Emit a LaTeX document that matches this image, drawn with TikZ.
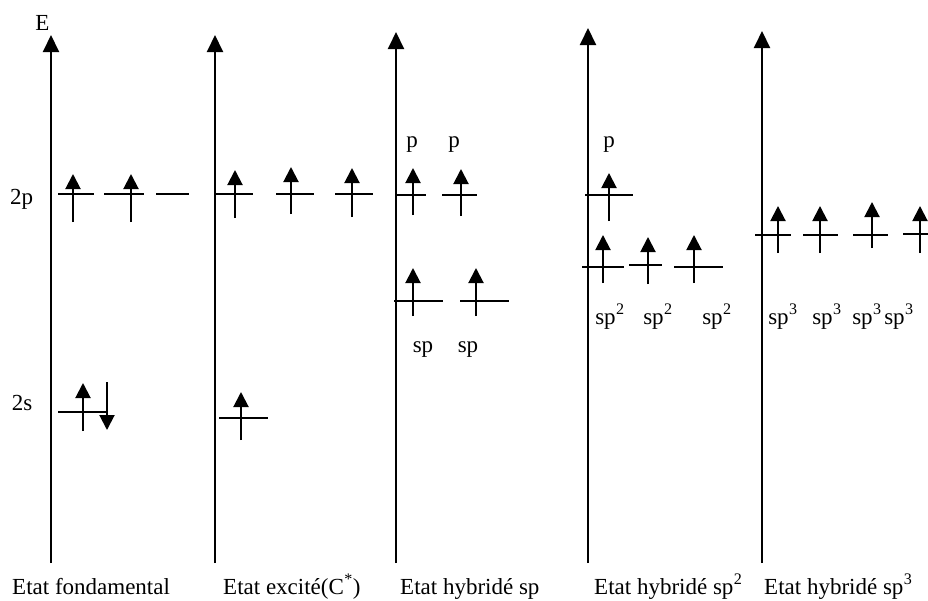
\documentclass[tikz,border=0pt]{standalone}
\usepackage{fontspec}
\setmainfont{Liberation Serif}
\usetikzlibrary{arrows.meta}
\newcommand{\sups}[1]{\textsuperscript{\kern0.5pt#1}}
\begin{document}
\begin{tikzpicture}[x=1pt,y=-1pt,
  axis/.style={line width=2pt,-{Triangle[width=16pt,length=17pt]}},
  level/.style={line width=2pt},
  elec/.style={line width=2pt,-{Triangle[width=15pt,length=15pt]}},
  lab/.style={inner sep=0pt,font=\fontsize{23}{25}\selectfont},
  blab/.style={inner sep=0pt,anchor=base west,font=\fontsize{23}{25}\selectfont}]
\useasboundingbox (0,0) rectangle (928,600);
% axes
\coordinate (a1b) at (51,563); \coordinate (a1t) at (51,35);
\coordinate (a2b) at (215,563); \coordinate (a2t) at (215,35);
\coordinate (a3b) at (396,563); \coordinate (a3t) at (396,32);
\coordinate (a4b) at (588,563); \coordinate (a4t) at (588,28);
\coordinate (a5b) at (762,563); \coordinate (a5t) at (762,31);
\foreach \i in {1,...,5} \draw[axis] (a\i b) -- (a\i t);
\node[lab,anchor=base] (E) at (42.5,30) {E};
% labels left
\node[lab,anchor=base] (l2p) at (21.5,204) {2p};
\node[lab,anchor=base] (l2s) at (22,410) {2s};
% --- Etat fondamental
\draw[level] (58,194) -- (94,194);
\draw[level] (104,194) -- (144,194);
\draw[level] (156,194) -- (189,194);
\draw[elec] (73,222) -- (73,174);
\draw[elec] (131,222) -- (131,174);
\draw[level] (58,412) -- (107,412);
\draw[elec] (83,431) -- (83,383);
\draw[elec] (107,382) -- (107,430);
% --- Etat excite
\draw[level] (215,194) -- (253,194);
\draw[level] (276,194) -- (314,194);
\draw[level] (335,194) -- (373,194);
\draw[elec] (235,218) -- (235,170);
\draw[elec] (291,214) -- (291,167);
\draw[elec] (352,217) -- (352,168);
\draw[level] (219,418) -- (268,418);
\draw[elec] (241,440) -- (241,392);
% --- Etat hybride sp
\node[lab,anchor=base] (p1) at (412,147) {p};
\node[lab,anchor=base] (p2) at (454,147) {p};
\draw[level] (396,195) -- (426,195);
\draw[level] (442,195) -- (477,195);
\draw[elec] (413,215) -- (413,168);
\draw[elec] (461,216) -- (461,169);
\draw[level] (394,301) -- (443,301);
\draw[level] (460,301) -- (509,301);
\draw[elec] (413,316) -- (413,268);
\draw[elec] (476,316) -- (476,268);
\node[lab,anchor=base] (sp1) at (423,352) {sp};
\node[lab,anchor=base] (sp2) at (468,352) {sp};
% --- Etat hybride sp2
\node[lab,anchor=base] (p3) at (609,147) {p};
\draw[level] (585,195) -- (633,195);
\draw[elec] (609,221) -- (609,173);
\draw[level] (582,267) -- (624,267);
\draw[level] (629,265) -- (662,265);
\draw[level] (674,267) -- (723,267);
\draw[elec] (603,283) -- (603,235);
\draw[elec] (648,284) -- (648,237);
\draw[elec] (694,283) -- (694,235);
\node[lab,anchor=base] (spa) at (610,324) {sp\sups{2}};
\node[lab,anchor=base] (spb) at (658,324) {sp\sups{2}};
\node[lab,anchor=base] (spc) at (717,324) {sp\sups{2}};
% --- Etat hybride sp3
\draw[level] (755,235) -- (791,235);
\draw[level] (803,235) -- (838,235);
\draw[level] (853,235) -- (888,235);
\draw[level] (903,234) -- (928,234);
\draw[elec] (778,253) -- (778,206);
\draw[elec] (820,253) -- (820,206);
\draw[elec] (872,248) -- (872,202);
\draw[elec] (920,253) -- (920,206);
\node[lab,anchor=base] (spd) at (783,324) {sp\sups{3}};
\node[lab,anchor=base] (spe) at (827,324) {sp\sups{3}};
\node[lab,anchor=base] (spf) at (867,324) {sp\sups{3}};
\node[lab,anchor=base] (spg) at (899,324) {sp\sups{3}};
% bottom labels
\node[blab] (b1) at (12,594) {Etat fondamental};
\node[blab] (b2) at (223,594) {Etat excité(C\sups{*})};
\node[blab] (b3) at (400,594) {Etat hybridé sp};
\node[blab] (b4) at (594,594) {Etat hybridé sp\sups{2}};
\node[blab] (b5) at (764,594) {Etat hybridé sp\sups{3}};
\end{tikzpicture}
\end{document}
